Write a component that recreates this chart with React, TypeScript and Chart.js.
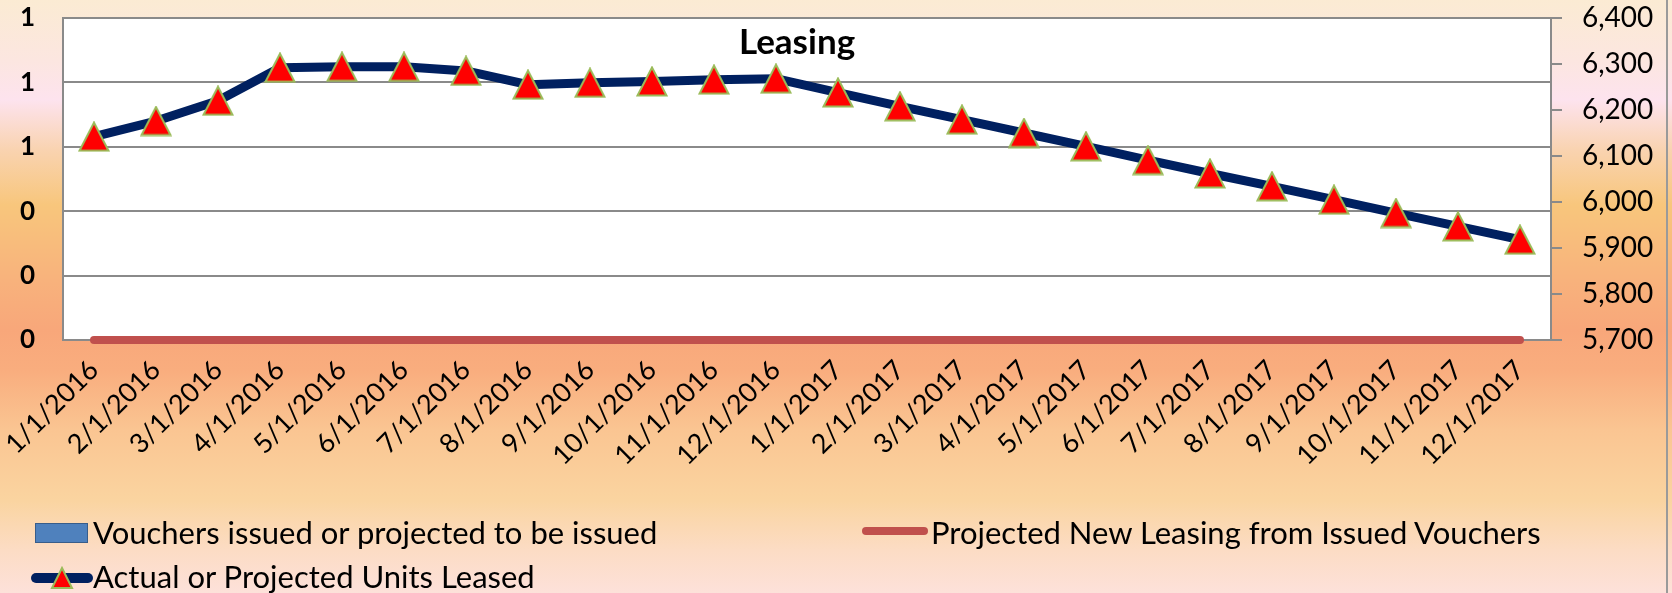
import React, { useEffect, useRef } from 'react';
import { Chart, registerables } from 'chart.js';

Chart.register(...registerables);

const categories = [
  '1/1/2016', '2/1/2016', '3/1/2016', '4/1/2016', '5/1/2016', '6/1/2016',
  '7/1/2016', '8/1/2016', '9/1/2016', '10/1/2016', '11/1/2016', '12/1/2016',
  '1/1/2017', '2/1/2017', '3/1/2017', '4/1/2017', '5/1/2017', '6/1/2017',
  '7/1/2017', '8/1/2017', '9/1/2017', '10/1/2017', '11/1/2017', '12/1/2017',
];

const vouchersIssued = [0, 0, 0, 0, 0, 0, 0, 0, 0, 0, 0, 0, 0, 0, 0, 0, 0, 0, 0, 0, 0, 0, 0, 0];
const projectedNewLeasing = [0, 0, 0, 0, 0, 0, 0, 0, 0, 0, 0, 0, 0, 0, 0, 0, 0, 0, 0, 0, 0, 0, 0, 0];
const unitsLeased = [
  6142, 6176, 6220, 6292, 6294, 6294, 6285, 6255, 6259, 6262, 6266, 6268,
  6238, 6208, 6179, 6150, 6121, 6091, 6062, 6034, 6005, 5976, 5947, 5918,
];

const leftMin = 0;
const leftMax = 1;
const leftStep = 0.2;
const rightMin = 5700;
const rightMax = 6400;
const rightStep = 100;

const titleText = 'Leasing';
const legendVouchers = 'Vouchers issued or projected to be issued';
const legendProjected = 'Projected New Leasing from Issued Vouchers';
const legendUnits = 'Actual or Projected Units Leased';

const FONT = 'Lato, "Noto Sans", sans-serif';
const GRID = '#8a8a8a';

function makeTriangle(w: number, h: number, lw: number): HTMLCanvasElement {
  const c = document.createElement('canvas');
  c.width = w;
  c.height = h;
  const ctx = c.getContext('2d')!;
  ctx.beginPath();
  ctx.moveTo(w / 2, lw / 2 + 0.5);
  ctx.lineTo(w - lw / 2 - 0.5, h - lw / 2 - 0.5);
  ctx.lineTo(lw / 2 + 0.5, h - lw / 2 - 0.5);
  ctx.closePath();
  ctx.fillStyle = '#FF0000';
  ctx.fill();
  ctx.lineWidth = lw;
  ctx.lineJoin = 'miter';
  ctx.strokeStyle = '#9BBB59';
  ctx.stroke();
  return c;
}

export default function App() {
  const canvasRef = useRef<HTMLCanvasElement | null>(null);

  useEffect(() => {
    document.body.style.margin = '0';
    const canvas = canvasRef.current;
    if (!canvas) return;
    const tri = makeTriangle(32, 31, 2);

    const plotBg = {
      id: 'plotBg',
      beforeDraw(chart: any) {
        const { ctx, chartArea } = chart;
        ctx.save();
        ctx.fillStyle = '#FFFFFF';
        ctx.fillRect(chartArea.left, chartArea.top, chartArea.right - chartArea.left, chartArea.bottom - chartArea.top);
        ctx.restore();
      },
    };
    const titlePlugin = {
      id: 'innerTitle',
      afterDraw(chart: any) {
        const { ctx } = chart;
        ctx.save();
        ctx.font = `bold 35px ${FONT}`;
        ctx.fillStyle = '#000';
        ctx.textAlign = 'center';
        ctx.textBaseline = 'alphabetic';
        ctx.fillText(titleText, 797, 54);
        ctx.restore();
      },
    };

    const chart = new Chart(canvas, {
      type: 'bar',
      data: {
        labels: categories,
        datasets: [
          {
            type: 'bar',
            label: legendVouchers,
            data: vouchersIssued,
            backgroundColor: '#4F81BD',
            borderWidth: 0,
            yAxisID: 'y',
            order: 3,
          },
          {
            type: 'line',
            label: legendProjected,
            data: projectedNewLeasing,
            borderColor: '#C0504D',
            borderWidth: 8,
            borderCapStyle: 'round',
            pointRadius: 0,
            pointHoverRadius: 0,
            fill: false,
            tension: 0,
            clip: false,
            yAxisID: 'y',
            order: 2,
          } as any,
          {
            type: 'line',
            label: legendUnits,
            data: unitsLeased,
            borderColor: '#002060',
            borderWidth: 9,
            borderJoinStyle: 'round',
            pointStyle: tri,
            pointRadius: 15,
            pointHoverRadius: 15,
            pointBackgroundColor: '#FF0000',
            pointBorderColor: '#9BBB59',
            fill: false,
            tension: 0,
            clip: false,
            yAxisID: 'y1',
            order: 1,
          } as any,
        ],
      },
      options: {
        animation: false,
        responsive: false,
        maintainAspectRatio: false,
        layout: { autoPadding: false, padding: { top: 18, left: 0, right: 0, bottom: 123 } },
        plugins: {
          legend: { display: false },
          title: { display: false },
          tooltip: { enabled: false },
        },
        scales: {
          x: {
            offset: true,
            grid: { display: false, drawTicks: false },
            border: { display: true, color: GRID, width: 2 },
            ticks: {
              color: '#000',
              font: { family: FONT, size: 27 },
              minRotation: 45,
              maxRotation: 45,
              autoSkip: false,
              padding: 14,
            },
            afterFit: (s: any) => {
              s.height = 130;
              s.paddingLeft = 0;
              s.paddingRight = 0;
            },
          },
          y: {
            position: 'left',
            min: leftMin,
            max: leftMax,
            ticks: {
              stepSize: leftStep,
              color: '#000',
              font: { family: FONT, size: 26, weight: 'bold' },
              padding: 28,
              callback: (v: any) => Number(v).toFixed(0),
            },
            grid: { color: GRID, lineWidth: 2, drawTicks: false },
            border: { display: true, color: GRID, width: 2 },
            afterFit: (s: any) => {
              s.width = 63;
              s.paddingTop = 0;
              s.paddingBottom = 0;
            },
          },
          y1: {
            position: 'right',
            min: rightMin,
            max: rightMax,
            ticks: {
              stepSize: rightStep,
              color: '#000',
              font: { family: FONT, size: 28 },
              padding: 20,
              callback: (v: any) => Number(v).toLocaleString('en-US'),
            },
            grid: { drawOnChartArea: false, color: GRID, lineWidth: 2, tickLength: 11, drawTicks: true },
            border: { display: true, color: GRID, width: 2 },
            afterFit: (s: any) => {
              s.width = 121;
              s.paddingTop = 0;
              s.paddingBottom = 0;
            },
          },
        },
      },
      plugins: [plotBg, titlePlugin],
    } as any);

    return () => chart.destroy();
  }, []);

  const textStyle: React.CSSProperties = {
    position: 'absolute',
    font: `31px ${FONT}`,
    color: '#000',
    lineHeight: '36px',
    whiteSpace: 'nowrap',
  };

  return (
    <div
      style={{
        position: 'relative',
        width: 1672,
        height: 593,
        overflow: 'hidden',
        background:
          'linear-gradient(to bottom, #FBEBD3 0px, #FCE6E0 60px, #FDE3EE 100px, #F9D3B0 150px, #F8C67C 205px, #F8B27C 280px, #F8A77A 330px, #F9AD7E 370px, #FAC592 430px, #FAD4A0 500px, #FCDCC4 550px, #FDE1DA 593px)',
      }}
    >
      <canvas ref={canvasRef} width={1672} height={593} style={{ position: 'absolute', left: 0, top: 0 }} />
      <div style={{ position: 'absolute', left: 1666, top: 0, width: 2, height: 593, background: '#9a9a9a' }} />
      {/* legend */}
      <div
        style={{
          position: 'absolute',
          left: 35,
          top: 523,
          width: 53,
          height: 20,
          background: '#4F81BD',
          border: '1.5px solid #385D8A',
          boxSizing: 'border-box',
        }}
      />
      <div style={{ ...textStyle, left: 93, top: 514 }}>{legendVouchers}</div>
      <svg style={{ position: 'absolute', left: 858, top: 521 }} width={74} height={20}>
        <line x1={8} y1={10} x2={66} y2={10} stroke="#C0504D" strokeWidth={8} strokeLinecap="round" />
      </svg>
      <div style={{ ...textStyle, left: 931, top: 514 }}>{legendProjected}</div>
      <svg style={{ position: 'absolute', left: 28, top: 566 }} width={68} height={24}>
        <line x1={8} y1={12} x2={60} y2={12} stroke="#002060" strokeWidth={10} strokeLinecap="round" />
        <polygon points="34,2 44,22 24,22" fill="#FF0000" stroke="#9BBB59" strokeWidth={2} />
      </svg>
      <div style={{ ...textStyle, left: 93, top: 558 }}>{legendUnits}</div>
    </div>
  );
}
